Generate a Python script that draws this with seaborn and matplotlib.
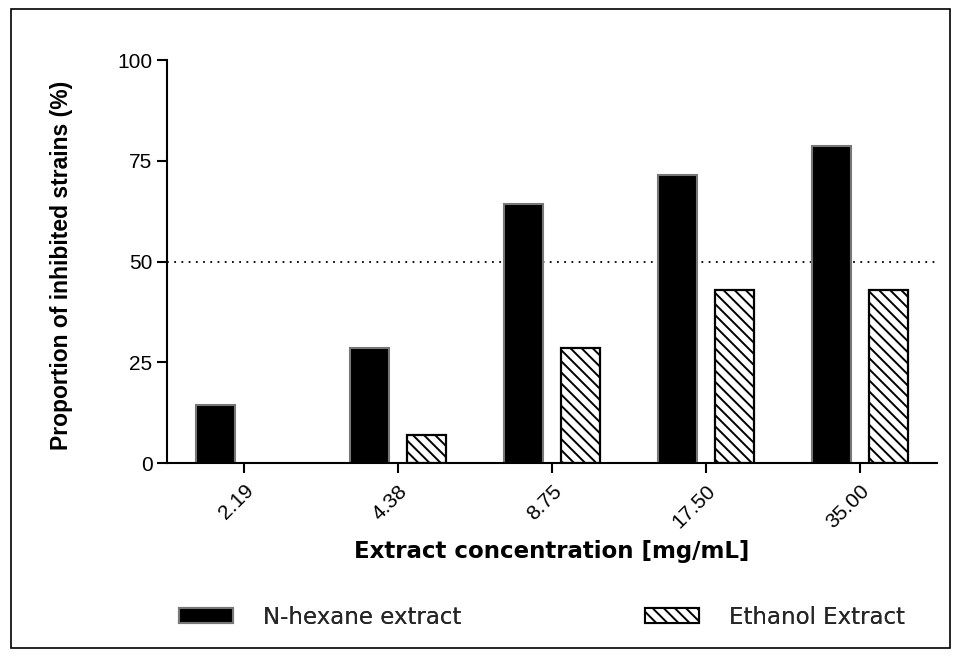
import pandas as pd
import matplotlib.pyplot as plt
import matplotlib.patches as mpatches
import seaborn as sns

concentrations = ['2.19', '4.38', '8.75', '17.50', '35.00']
hexane_values = [14.3, 28.6, 64.3, 71.4, 78.6]
ethanol_values = [0.0, 7.1, 28.6, 42.9, 42.9]
series_names = ['N-hexane extract', 'Ethanol Extract']

df = pd.DataFrame({
    'conc': concentrations * 2,
    'value': hexane_values + ethanol_values,
    'extract': [series_names[0]] * 5 + [series_names[1]] * 5,
})

sns.set_style('ticks')
plt.rcParams['font.family'] = ['Liberation Sans', 'DejaVu Sans']
plt.rcParams['hatch.linewidth'] = 1.4
plt.rcParams['hatch.color'] = 'black'

fig = plt.figure(figsize=(9.62, 6.56), dpi=100)
ax = fig.add_axes([0.1736, 0.294, 0.8004, 0.6145])

sns.barplot(data=df, x='conc', y='value', hue='extract', order=concentrations,
            hue_order=series_names, palette=['black', 'white'],
            width=0.74, gap=0.3, ax=ax, legend=False, saturation=1)

n = len(concentrations)
for i, bar in enumerate(ax.patches):
    if i < n:
        bar.set_edgecolor('#777777')
        bar.set_linewidth(1.5)
    else:
        bar.set_facecolor('white')
        bar.set_edgecolor('black')
        bar.set_hatch('\\\\\\')
        bar.set_linewidth(1.6)
    # zero-height bars leave no mark in the original
    if bar.get_height() == 0:
        bar.set_linewidth(0)

ax.axhline(50, color='black', linestyle=(0, (1, 3)), linewidth=1.3, zorder=0)

ax.set_xlim(-0.5, 4.5)
ax.set_ylim(0, 100)
ax.set_yticks([0, 25, 50, 75, 100])
ax.tick_params(axis='both', direction='out', length=7, width=1.5, labelsize=15, colors='black')
ax.tick_params(axis='x', pad=6)
for lab in ax.get_xticklabels():
    lab.set_rotation(45)
    lab.set_ha('right')
    lab.set_rotation_mode('anchor')
sns.despine(ax=ax)
for s in ['left', 'bottom']:
    ax.spines[s].set_linewidth(1.5)
    ax.spines[s].set_color('black')

ax.set_ylabel('Proportion of inhibited strains (%)', fontsize=16.5, fontweight='bold',
              color='black')
ax.yaxis.set_label_coords(-0.122, 0.49)
ax.set_xlabel('Extract concentration [mg/mL]', fontsize=16.5, fontweight='bold',
              family=['DejaVu Sans'], color='black')
ax.xaxis.label.set_va('center')
ax.xaxis.set_label_coords(0.5, -0.218)

legend_font = {'family': ['DejaVu Sans'], 'size': 16.5}
handles = [mpatches.Patch(facecolor='black', edgecolor='#777777', linewidth=1.5),
           mpatches.Patch(facecolor='white', edgecolor='black', hatch='\\\\\\', linewidth=1.5)]
for h, name, x0 in zip(handles, series_names, [179 / 962, 645 / 962]):
    leg = fig.legend([h], [name], loc='center left', bbox_to_anchor=(x0, 0.059),
                     frameon=False, handlelength=2.35, handleheight=0.6,
                     handletextpad=1.3, borderpad=0, borderaxespad=0, prop=legend_font)
    fig.add_artist(leg)

fig.patches.append(mpatches.Rectangle((0.011, 0.012), 0.977, 0.975, transform=fig.transFigure,
                                      fill=False, edgecolor='black', linewidth=1.2))

fig.savefig('out.png', dpi=100)
